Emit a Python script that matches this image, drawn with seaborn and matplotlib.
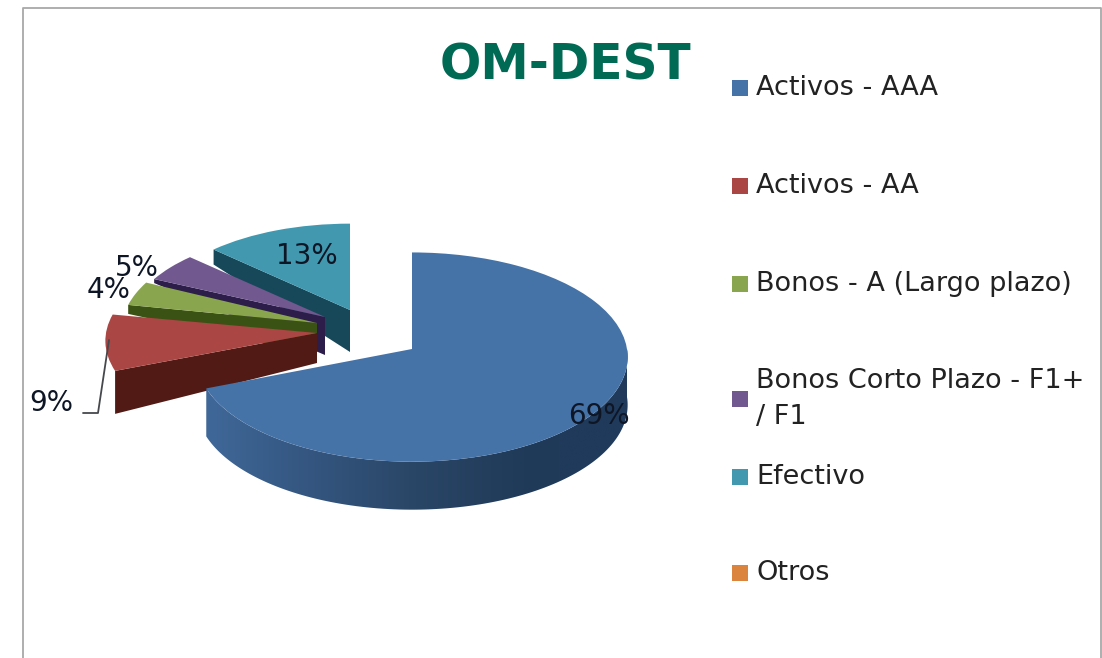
"""OM-DEST portfolio breakdown as a tilted, exploded pie."""

import matplotlib

matplotlib.use("Agg")

import matplotlib.pyplot as plt
import numpy as np
import seaborn as sns
from matplotlib.patches import Polygon, Rectangle
from matplotlib.transforms import Affine2D, Transform

categories = [
    "Activos - AAA",
    "Activos - AA",
    "Bonos - A (Largo plazo)",
    "Bonos Corto Plazo - F1+\n/ F1",
    "Efectivo",
    "Otros",
]
shares = [69, 9, 4, 5, 13, 0]
share_labels = ["69%", "9%", "4%", "5%", "13%"]
colors = ["#4572a7", "#aa4643", "#89a54e", "#71588f", "#4198af", "#db843d"]
cut_colors = ["#24405f", "#521a14", "#3a5214", "#2c1d4a", "#17485a", "#db843d"]

# apex position and radii of every slice, in pixels
apex_x = [412, 317, 317, 325, 350, 350]
apex_y = [349, 333, 323, 317, 310, 310]
radius_x = [215, 211, 195, 195, 197, 197]
radius_y = [104, 100, 98, 92, 93, 93]
# depth of the cut face at the apex and at the rim
depth_near = [0, 30, 32, 38, 42, 0]
depth_far = [0, 43, 9, 4, 15, 0]
label_pos = [(599, 416), (51, 403), (109, 290), (137, 268), (307, 256)]
legend_y = [88, 186, 284, 399, 477, 573]
TILT = 0.077
BLUE_DEPTH = 48


class Tilt(Transform):
    """Perspective of a unit disc seen from the front."""

    input_dims = 2
    output_dims = 2

    def transform_non_affine(self, values):
        values = np.asarray(values, dtype=float)
        return values / (1 + TILT * values[:, 1:2])


def slice_transform(index):
    return Tilt() + Affine2D().scale(radius_x[index], -radius_y[index]).translate(
        apex_x[index], apex_y[index]
    )


def rim(index, degrees):
    angles = np.radians(degrees)
    unit = np.column_stack([np.cos(angles), np.sin(angles)])
    return slice_transform(index).transform(unit)


sns.set_theme(style="white")
plt.rcParams["font.family"] = ["DejaVu Sans"]

fig, ax = plt.subplots(figsize=(11.02, 6.58), dpi=100)
fig.subplots_adjust(0, 0, 1, 1)

wedges, _ = ax.pie(
    shares,
    colors=colors,
    startangle=90,
    counterclock=False,
    wedgeprops={"linewidth": 0},
)

# blue rim with its dark gradient
sweep = np.linspace(0, wedges[0].theta1, 120)
top = rim(0, sweep)
side = np.vstack([top, (top + [0, BLUE_DEPTH])[::-1]])
side_patch = Polygon(side, closed=True, transform=ax.transData, fc="none", ec="none")
shade = sns.blend_palette(["#40699a", "#345680", "#2a4666", "#203a59", "#1f3a5c"], as_cmap=True)
image = ax.imshow(
    np.linspace(0, 1, 256)[None, :],
    cmap=shade,
    extent=(200, 632, 520, 340),
    aspect="auto",
    zorder=9,
)
image.set_clip_path(side_patch)

# painted back to front
for z, index in enumerate([4, 3, 2, 1, 0]):
    wedge = wedges[index]
    wedge.set_transform(slice_transform(index) + ax.transData)
    wedge.set_zorder(2 * z + 2)
    if index == 0:
        wedge.set_zorder(10)
        continue
    edge = rim(index, [wedge.theta2])[0]
    apex = np.array([apex_x[index], apex_y[index]])
    face = [
        apex,
        edge,
        edge + [0, depth_far[index]],
        apex + [0, depth_near[index]],
    ]
    ax.fill(*zip(*face), color=cut_colors[index], lw=0, zorder=2 * z + 1)

for text, (x, y) in zip(share_labels, label_pos):
    ax.text(x, y, text, fontsize=20, color="#0e1626", ha="center", va="center", zorder=12)

# leader line of the 9% label
ax.plot([83, 98, 109], [413, 413, 340], color="#45484c", lw=1.3, zorder=11)

ax.text(565, 65, "OM-DEST", fontsize=35, fontweight="bold", color="#006a55", ha="center", va="center")

for label, color, y in zip(categories, colors, legend_y):
    ax.add_patch(Rectangle((732, y - 8), 16, 16, fc=color, ec="none"))
    ax.text(756, y, label, fontsize=19.5, color="#222222", va="center", linespacing=1.5)

# chart frame
ax.plot([23, 23, 1101, 1101], [658, 8, 8, 658], color="#a8a8a8", lw=1.3, zorder=1)

ax.set_aspect("auto")
ax.set_xlim(0, 1102)
ax.set_ylim(658, 0)
ax.set_axis_off()

fig.savefig("out.png", dpi=100, facecolor="white")
plt.close(fig)
